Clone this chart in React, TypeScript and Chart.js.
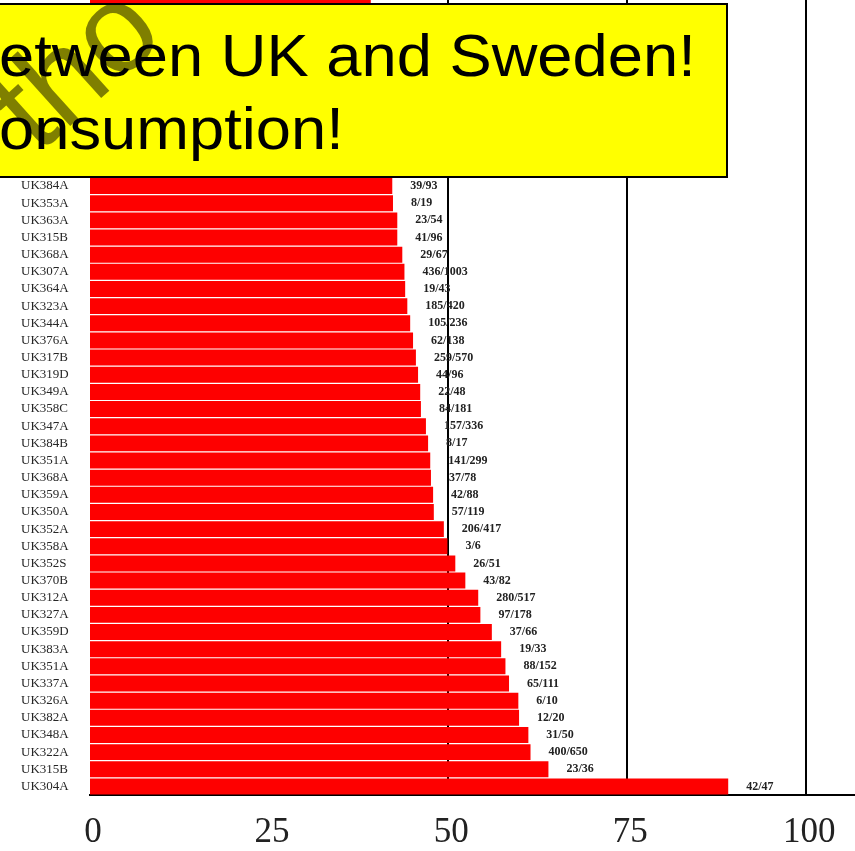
import { useEffect, useRef } from "react";
import { Chart, registerables } from "chart.js";

Chart.register(...registerables);

// Rows from top to bottom. The first 11 rows sit behind the yellow box (only the
// very first one peeks out above it), so their names/values are unknown.
const categories: string[] = [
  "", "", "", "", "", "", "", "", "", "", "",
  "UK384A", "UK353A", "UK363A", "UK315B", "UK368A", "UK307A", "UK364A", "UK323A",
  "UK344A", "UK376A", "UK317B", "UK319D", "UK349A", "UK358C", "UK347A", "UK384B",
  "UK351A", "UK368A", "UK359A", "UK350A", "UK352A", "UK358A", "UK352S", "UK370B",
  "UK312A", "UK327A", "UK359D", "UK383A", "UK351A", "UK337A", "UK326A", "UK382A",
  "UK348A", "UK322A", "UK315B", "UK304A",
];

const percentValues: (number | null)[] = [
  39.2, null, null, null, null, null, null, null, null, null, null,
  42.2, 42.3, 42.9, 42.9, 43.6, 43.9, 44.0, 44.3,
  44.7, 45.1, 45.5, 45.8, 46.1, 46.2, 46.9, 47.2,
  47.5, 47.6, 47.9, 48.0, 49.4, 49.9, 51.0, 52.4,
  54.2, 54.5, 56.1, 57.4, 58.0, 58.5, 59.8, 59.9,
  61.2, 61.5, 64.0, 89.1,
];

const countLabels: string[] = [
  "", "", "", "", "", "", "", "", "", "", "",
  "39/93", "8/19", "23/54", "41/96", "29/67", "436/1003", "19/43", "185/420",
  "105/236", "62/138", "259/570", "44/96", "22/48", "84/181", "157/336", "8/17",
  "141/299", "37/78", "42/88", "57/119", "206/417", "3/6", "26/51", "43/82",
  "280/517", "97/178", "37/66", "19/33", "88/152", "65/111", "6/10", "12/20",
  "31/50", "400/650", "23/36", "42/47",
];

const xTickValues: number[] = [0, 25, 50, 75, 100];
const referenceLines: number[] = [50, 75, 100];

const boxLines: string[] = ["etween UK and Sweden!", "onsumption!"];
const watermarkText = "tho";

// vertical reference lines, drawn behind the bars
const referenceLinePlugin = {
  id: "referenceLines",
  beforeDatasetsDraw(chart: any) {
    const { ctx, chartArea, scales } = chart;
    ctx.save();
    ctx.strokeStyle = "#000";
    ctx.lineWidth = 2;
    referenceLines.forEach((v) => {
      const x = Math.round(scales.x.getPixelForValue(v));
      ctx.beginPath();
      ctx.moveTo(x, chartArea.top);
      ctx.lineTo(x, chartArea.bottom);
      ctx.stroke();
    });
    ctx.restore();
  },
};

const valueLabelPlugin = {
  id: "valueLabels",
  afterDatasetsDraw(chart: any) {
    const ctx = chart.ctx;
    const meta = chart.getDatasetMeta(0);
    ctx.save();
    ctx.font = 'bold 12px "Liberation Serif"';
    ctx.fillStyle = "#222";
    ctx.textBaseline = "middle";
    ctx.textAlign = "left";
    meta.data.forEach((el: any, i: number) => {
      const t = countLabels[i];
      if (!t || percentValues[i] == null) return;
      ctx.fillText(t, el.x + 18, el.y);
    });
    ctx.restore();
  },
};

export default function App() {
  const canvasRef = useRef<HTMLCanvasElement | null>(null);

  useEffect(() => {
    if (!canvasRef.current) return;
    const chart = new Chart(canvasRef.current, {
      type: "bar",
      data: {
        labels: categories,
        datasets: [
          {
            data: percentValues,
            backgroundColor: "#fe0000",
            borderWidth: 0,
            barPercentage: 0.93,
            categoryPercentage: 1,
          },
        ],
      },
      options: {
        indexAxis: "y",
        animation: false,
        responsive: false,
        maintainAspectRatio: false,
        layout: { padding: { left: 21, top: 0, right: 0, bottom: 0 } },
        plugins: {
          legend: { display: false },
          tooltip: { enabled: false },
        },
        scales: {
          x: {
            type: "linear",
            min: 0,
            max: 106.8,
            afterBuildTicks: (s: any) => {
              s.ticks = xTickValues.map((v) => ({ value: v }));
            },
            afterFit: (s: any) => {
              s.height = 57;
            },
            grid: { display: false, drawTicks: false },
            border: { display: true, color: "#000", width: 2 },
            ticks: {
              font: { family: '"Liberation Serif"', size: 35 },
              color: "#222",
              padding: 17,
              labelOffset: 3,
              maxRotation: 0,
              autoSkip: false,
            },
          },
          y: {
            afterFit: (s: any) => {
              s.width = 69;
            },
            grid: { display: false, drawTicks: false },
            border: { display: false },
            ticks: {
              font: { family: '"Liberation Serif"', size: 13 },
              color: "#262626",
              padding: 0,
              crossAlign: "far",
              autoSkip: false,
            },
          },
        },
      },
      plugins: [referenceLinePlugin, valueLabelPlugin],
    } as any);
    return () => chart.destroy();
  }, []);

  return (
    <div
      style={{
        position: "fixed",
        left: 0,
        top: 0,
        width: 855,
        height: 851,
        overflow: "hidden",
        background: "#fff",
      }}
    >
      <canvas
        ref={canvasRef}
        width={855}
        height={871}
        style={{ position: "absolute", left: 0, top: -19, width: 855, height: 871 }}
      />
      <div
        style={{
          position: "absolute",
          left: -10,
          top: 3,
          width: 738,
          height: 175,
          boxSizing: "border-box",
          border: "2px solid #000",
          background: "#ffff00",
          overflow: "hidden",
        }}
      >
        <div
          style={{
            position: "absolute",
            left: 46,
            top: 150 - 106,
            fontFamily: '"Liberation Sans", Arial, sans-serif',
            fontSize: 125,
            lineHeight: "125px",
            whiteSpace: "pre",
            color: "rgba(0,0,0,0.5)",
            transformOrigin: "0px 106px",
            transform: "rotate(-42deg)",
          }}
        >
          {watermarkText}
        </div>
        <div
          style={{
            position: "absolute",
            left: 7,
            top: 14,
            fontFamily: '"Liberation Sans", Arial, sans-serif',
            fontSize: 60,
            lineHeight: "73px",
            whiteSpace: "pre",
            color: "#000",
            transformOrigin: "0px 0px",
            transform: "scaleX(1.055)",
          }}
        >
          {boxLines.join("\n")}
        </div>
      </div>
    </div>
  );
}
